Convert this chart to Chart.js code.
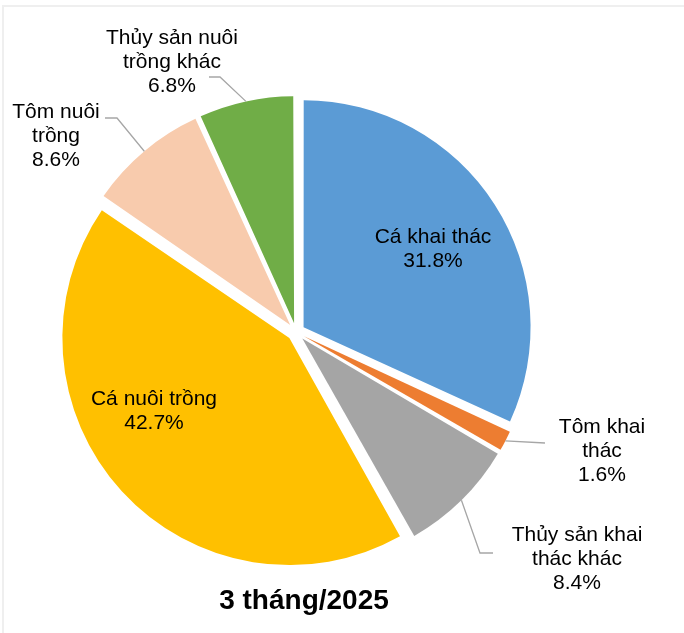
<!DOCTYPE html>
<html>
<head>
<meta charset="utf-8">
<script src="https://cdn.jsdelivr.net/npm/chart.js@4.4.1/dist/chart.umd.min.js"></script>
<style>
  html, body { margin: 0; padding: 0; background: #fff; }
  #wrap { width: 684px; height: 633px; position: relative; }
</style>
</head>
<body>
<div id="wrap"><canvas id="pieChart" width="684" height="633"></canvas></div>
<script>
// data (share of output, %)
const categories = ['Cá khai thác', 'Tôm khai thác', 'Thủy sản khai thác khác', 'Cá nuôi trồng', 'Tôm nuôi trồng', 'Thủy sản nuôi trồng khác'];
const shares = [31.8, 1.6, 8.4, 42.7, 8.6, 6.8];
const labelLines = [
  ['Cá khai thác'],
  ['Tôm khai', 'thác'],
  ['Thủy sản khai', 'thác khác'],
  ['Cá nuôi trồng'],
  ['Tôm nuôi', 'trồng'],
  ['Thủy sản nuôi', 'trồng khác']
];
const title = '3 tháng/2025';

const colors = ['#5B9BD5', '#ED7D31', '#A5A5A5', '#FFC000', '#F8CBAD', '#70AD47'];
const RADIUS = 227;
const GAP = 9; // how far each slice is pulled out

// label anchors (centre x, first baseline y) and leader line bends
const labelPos = [[433, 243], [602, 433], [577, 541], [154, 405], [56, 118], [172, 44]];
const leaders = [null, [[545, 443]], [[480, 553], [493, 553]], null, [[117, 118], [105, 118]], [[220, 77], [209, 77]]];

const FONT = '"Liberation Sans", Arial, sans-serif';

// keep every slice the same radius after chart.js pushes it out
const evenRadius = {
  id: 'evenRadius',
  afterDatasetsUpdate(chart) {
    chart.getDatasetMeta(0).data.forEach(arc => {
      const fix = 1 - Math.sin(Math.min(Math.PI, arc.circumference));
      arc.outerRadius = RADIUS - (GAP * fix);
    });
  }
};

const pieLabels = {
  id: 'pieLabels',
  afterDraw(chart) {
    const ctx = chart.ctx;
    const arcs = chart.getDatasetMeta(0).data;

    // light frame from the screenshot
    ctx.save();
    ctx.strokeStyle = '#efefef';
    ctx.lineWidth = 2;
    ctx.beginPath();
    ctx.moveTo(684, 6);
    ctx.lineTo(3, 6);
    ctx.lineTo(3, 633);
    ctx.stroke();

    arcs.forEach((arc, i) => {
      const mid = (arc.startAngle + arc.endAngle) / 2;
      if (leaders[i]) {
        const r = RADIUS + GAP;
        ctx.strokeStyle = '#a6a6a6';
        ctx.lineWidth = 1.3;
        ctx.beginPath();
        ctx.moveTo(arc.x + Math.cos(mid) * r, arc.y + Math.sin(mid) * r);
        leaders[i].forEach(p => ctx.lineTo(p[0], p[1]));
        ctx.stroke();
      }
      const lines = labelLines[i].concat([shares[i].toFixed(1) + '%']);
      ctx.fillStyle = '#000';
      ctx.font = '21px ' + FONT;
      ctx.textAlign = 'center';
      ctx.textBaseline = 'alphabetic';
      lines.forEach((t, k) => {
        ctx.fillText(t, labelPos[i][0], labelPos[i][1] + k * 24);
      });
    });

    ctx.font = 'bold 28px ' + FONT;
    ctx.textAlign = 'center';
    ctx.fillText(title, 304, 609);
    ctx.restore();
  }
};

new Chart(document.getElementById('pieChart'), {
  type: 'pie',
  data: {
    labels: categories,
    datasets: [{
      data: shares,
      backgroundColor: colors,
      borderWidth: 0,
      offset: GAP * 4,
      radius: RADIUS
    }]
  },
  options: {
    responsive: false,
    animation: false,
    layout: { padding: { left: 10, right: 102, top: 40, bottom: 9 } },
    plugins: {
      legend: { display: false },
      tooltip: { enabled: false }
    }
  },
  plugins: [evenRadius, pieLabels]
});
</script>
</body>
</html>
